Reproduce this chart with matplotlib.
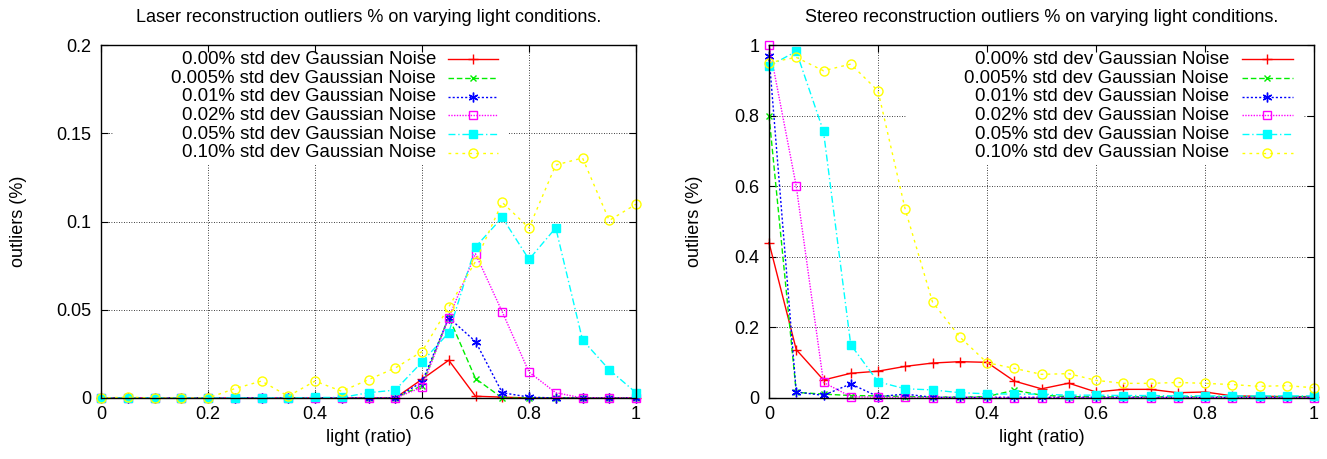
import matplotlib
matplotlib.use("Agg")
import matplotlib.pyplot as plt
from matplotlib.patches import Rectangle

plt.rcParams['font.family'] = ['Liberation Sans', 'DejaVu Sans']

# light ratio (x axis), shared by both plots
light = [0.0, 0.05, 0.1, 0.15, 0.2, 0.25, 0.3, 0.35, 0.4, 0.45, 0.5,
         0.55, 0.6, 0.65, 0.7, 0.75, 0.8, 0.85, 0.9, 0.95, 1.0]

labels = ["0.00% std dev Gaussian Noise", "0.005% std dev Gaussian Noise",
          "0.01% std dev Gaussian Noise", "0.02% std dev Gaussian Noise",
          "0.05% std dev Gaussian Noise", "0.10% std dev Gaussian Noise"]

# laser reconstruction outliers
laser_000 = [0, 0, 0, 0, 0, 0, 0, 0, 0, 0, 0, 0, 0.0106, 0.0214, 0.001, 0.0005, 0, 0, 0, 0, 0]
laser_0005 = [0, 0, 0, 0, 0, 0, 0, 0, 0, 0, 0, 0, 0.007, 0.046, 0.011, 0, 0, 0, 0, 0, 0]
laser_001 = [0, 0, 0, 0, 0, 0, 0, 0, 0, 0, 0, 0, 0.009, 0.0455, 0.032, 0.003, 0.0005, 0, 0, 0, 0]
laser_002 = [0, 0, 0, 0, 0, 0, 0, 0, 0, 0, 0, 0, 0.006, 0.0455, 0.0817, 0.0488, 0.0147, 0.003, 0, 0, 0]
laser_005 = [0, 0, 0, 0, 0, 0, 0, 0, 0.0003, 0.0003, 0.003, 0.0045, 0.0204, 0.037, 0.0856,
             0.1023, 0.0785, 0.0964, 0.0329, 0.016, 0.003]
laser_010 = [0, 0.0005, 0, 0, 0, 0.0053, 0.0096, 0.001, 0.0096, 0.0038, 0.0104, 0.017, 0.0263,
             0.0516, 0.0773, 0.1108, 0.0964, 0.132, 0.136, 0.1006, 0.1098]

# stereo reconstruction outliers
stereo_000 = [0.44, 0.137, 0.051, 0.070, 0.076, 0.0896, 0.099, 0.103, 0.101, 0.048, 0.026,
              0.042, 0.017, 0.0245, 0.0245, 0.015, 0.017, 0.006, 0.005, 0.004, 0.004]
stereo_0005 = [0.8, 0.016, 0.011, 0.007, 0.006, 0.004, 0.003, 0.002, 0.004, 0.022, 0.008,
               0.004, 0.003, 0.003, 0.003, 0.003, 0.003, 0.003, 0.003, 0.003, 0.003]
stereo_001 = [0.97, 0.017, 0.0075, 0.04, 0.004, 0.011, 0.002, 0.002, 0.002, 0.002, 0.002,
              0.002, 0.002, 0.002, 0.002, 0.002, 0.002, 0.002, 0.002, 0.002, 0.002]
stereo_002 = [1.0, 0.6, 0.044, 0.004, 0.002, 0.002, 0.001, 0.001, 0.001, 0.001, 0.001,
              0.001, 0.001, 0.001, 0.001, 0.001, 0.001, 0.001, 0.001, 0.001, 0.001]
stereo_005 = [0.94, 0.982, 0.755, 0.151, 0.046, 0.026, 0.023, 0.015, 0.012, 0.011, 0.011,
              0.008, 0.008, 0.007, 0.007, 0.006, 0.006, 0.006, 0.006, 0.006, 0.006]
stereo_010 = [0.95, 0.965, 0.927, 0.946, 0.87, 0.534, 0.272, 0.173, 0.100, 0.084, 0.067,
              0.069, 0.050, 0.0415, 0.0415, 0.044, 0.0415, 0.038, 0.033, 0.035, 0.029]

x_ticks = [0, 0.2, 0.4, 0.6, 0.8, 1.0]
laser_y_ticks = [0, 0.05, 0.1, 0.15, 0.2]
stereo_y_ticks = [0, 0.2, 0.4, 0.6, 0.8, 1.0]

# gnuplot-like line styles
styles = [
    dict(color='#ff0000', ls='-', marker='+', ms=7, mfc='none'),
    dict(color='#00ee00', ls=(0, (4, 2)), marker='x', ms=5, mfc='none'),
    dict(color='#0000ff', ls=(0, (1.5, 1.5)), marker=(6, 2, 0), ms=7, mfc='none'),
    dict(color='#ff00ff', ls=(0, (1, 1)), marker='s', ms=6, mfc='none'),
    dict(color='#00ffff', ls=(0, (5, 2, 1, 2)), marker='s', ms=6, mfc='#00ffff'),
    dict(color='#ffff00', ls=(0, (2, 3)), marker='o', ms=6.5, mfc='none'),
]

FS = 13
KEY_FS = 13.4


def draw_key(ax, x_box0, x_box1, x_text, x_line0, x_line1):
    """Draw a gnuplot style key: right aligned text, sample line on the right."""
    ax.add_patch(Rectangle((x_box0, 0.66), x_box1 - x_box0, 0.34, transform=ax.transAxes,
                           facecolor='white', edgecolor='none', zorder=1))
    y0, dy = 0.959, 0.0528
    for i, (label, st) in enumerate(zip(labels, styles)):
        y = y0 - i * dy
        ax.text(x_text, y, label, transform=ax.transAxes, ha='right', va='center',
                fontsize=KEY_FS, zorder=3)
        xm = (x_line0 + x_line1) / 2
        ax.plot([x_line0, xm, x_line1], [y, y, y], transform=ax.transAxes, markevery=[1],
                lw=1.0, mew=1.0, clip_on=False, zorder=3, **st)


def setup_axes(ax, y_ticks, title):
    ax.set_xlim(0, 1)
    ax.set_ylim(y_ticks[0], y_ticks[-1])
    ax.set_xticks(x_ticks)
    ax.set_yticks(y_ticks)
    ax.set_xticklabels([f"{v:g}" for v in x_ticks])
    ax.set_yticklabels([f"{v:g}" for v in y_ticks])
    ax.tick_params(direction='in', length=5, width=0.8, top=True, right=True,
                   labelsize=FS)
    ax.tick_params(axis='x', pad=6)
    ax.tick_params(axis='y', pad=7)
    for v in x_ticks[1:-1]:
        ax.axvline(v, color='black', lw=0.6, ls=(0, (1, 2)), zorder=0.5)
    for v in y_ticks[1:-1]:
        ax.axhline(v, color='black', lw=0.6, ls=(0, (1, 2)), zorder=0.5)
    for sp in ax.spines.values():
        sp.set_linewidth(1.0)
        sp.set_zorder(4)
    ax.text(0.5, 1.079, title, transform=ax.transAxes, ha='center', va='center', fontsize=FS)
    ax.text(0.5, -0.113, "light (ratio)", transform=ax.transAxes, ha='center', va='center',
            fontsize=FS)


def plot_series(ax, series):
    for values, st in zip(series, styles):
        ax.plot(light, values, lw=1.0, mew=1.0, clip_on=False, zorder=2, **st)


fig = plt.figure(figsize=(13.27, 4.59), dpi=100)
ax1 = fig.add_axes([101 / 1327, 61 / 459, 535 / 1327, 353 / 459])
ax2 = fig.add_axes([769 / 1327, 61 / 459, 545 / 1327, 353 / 459])

plot_series(ax1, [laser_000, laser_0005, laser_001, laser_002, laser_005, laser_010])
setup_axes(ax1, laser_y_ticks, "Laser reconstruction outliers % on varying light conditions.")
ax1.text(-0.155, 0.5, "outliers (%)", transform=ax1.transAxes, rotation=90,
         ha='center', va='center', fontsize=FS)
draw_key(ax1, 0.022, 0.761, 0.626, 0.649, 0.742)

plot_series(ax2, [stereo_000, stereo_0005, stereo_001, stereo_002, stereo_005, stereo_010])
setup_axes(ax2, stereo_y_ticks, "Stereo reconstruction outliers % on varying light conditions.")
ax2.text(-0.136, 0.5, "outliers (%)", transform=ax2.transAxes, rotation=90,
         ha='center', va='center', fontsize=FS)
draw_key(ax2, 0.253, 0.98, 0.844, 0.868, 0.961)

fig.savefig("out.png", dpi=100)
